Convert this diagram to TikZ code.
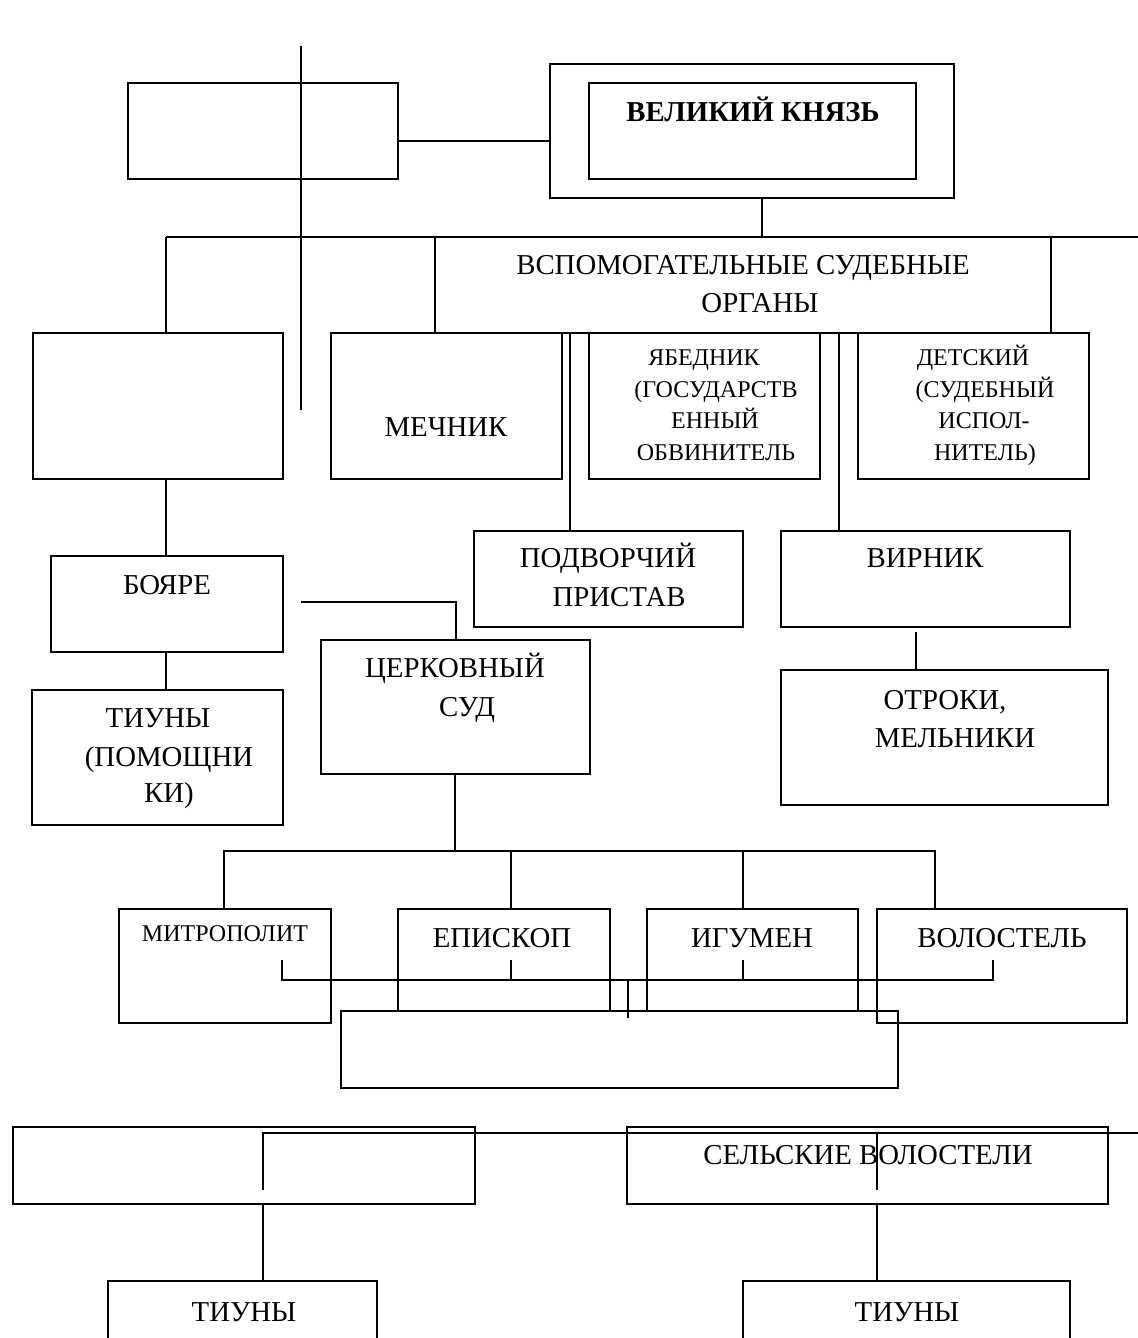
\documentclass[tikz,border=0pt]{standalone}
\usepackage{fontspec}
\setmainfont{Liberation Serif}
\tikzset{
  box/.style={draw, line width=0.8pt, inner sep=0pt, outer sep=0pt},
  conn/.style={line width=0.8pt},
  lbl/.style={inner sep=0pt, font=\fontsize{14.4}{17}\selectfont, text height=9.5pt, text depth=0pt},
  slbl/.style={inner sep=0pt, font=\fontsize{12}{14}\selectfont, text height=7.9pt, text depth=0pt},
}
\newcommand{\mkbox}[5]{\node[box, minimum width={(#4-#2)*0.5pt}, minimum height={(#5-#3)*0.5pt}] (#1) at ({(#2+#4)/2},{(#3+#5)/2}) {};}
\begin{document}
\begin{tikzpicture}[x=0.5pt, y=-0.5pt]
\useasboundingbox (0,0) rectangle (1138,1338);
% boxes
\mkbox{A}{128}{83}{398}{179}
\mkbox{prO}{550}{64}{954}{198}
\mkbox{prI}{589}{83}{916}{179}
\mkbox{B}{33}{333}{283}{479}
\mkbox{mech}{331}{333}{562}{479}
\mkbox{yab}{589}{333}{820}{479}
\mkbox{det}{858}{333}{1089}{479}
\mkbox{pod}{474}{531}{743}{627}
\mkbox{vir}{781}{531}{1070}{627}
\mkbox{otr}{781}{670}{1108}{805}
\mkbox{boy}{51}{556}{283}{652}
\mkbox{tiu1}{32}{690}{283}{825}
\mkbox{cerk}{321}{640}{590}{774}
\mkbox{mit}{119}{909}{331}{1023}
\mkbox{epi}{398}{909}{610}{1011}
\mkbox{igu}{647}{909}{858}{1011}
\mkbox{vol}{877}{909}{1127}{1023}
\mkbox{low}{341}{1011}{898}{1088}
\mkbox{C}{13}{1127}{475}{1204}
\mkbox{sel}{627}{1127}{1108}{1204}
\mkbox{tiu2}{108}{1281}{377}{1350}
\mkbox{tiu3}{743}{1281}{1070}{1350}
% texts
\node[lbl, font=\fontsize{14.4}{17}\selectfont\bfseries] (tpr) at (753,112) {ВЕЛИКИЙ КНЯЗЬ};
\node[lbl] (tv1) at (743,265) {ВСПОМОГАТЕЛЬНЫЕ СУДЕБНЫЕ};
\node[lbl] (tv2) at (760,303) {ОРГАНЫ};
\node[lbl] (tme) at (446,427) {МЕЧНИК};
\node[slbl] (ty1) at (704,358) {ЯБЕДНИК};
\node[slbl] (ty2) at (716,390) {(ГОСУДАРСТВ};
\node[slbl] (ty3) at (715,421) {ЕННЫЙ};
\node[slbl] (ty4) at (716,453) {ОБВИНИТЕЛЬ};
\node[slbl] (td1) at (973,358) {ДЕТСКИЙ};
\node[slbl] (td2) at (985,390) {(СУДЕБНЫЙ};
\node[slbl] (td3) at (984,421) {ИСПОЛ-};
\node[slbl] (td4) at (985,453) {НИТЕЛЬ)};
\node[lbl] (tp1) at (608,558) {ПОДВОРЧИЙ};
\node[lbl] (tp2) at (619,597) {ПРИСТАВ};
\node[lbl] (tvi) at (925,558) {ВИРНИК};
\node[lbl] (to1) at (945,700) {ОТРОКИ,};
\node[lbl] (to2) at (955,738) {МЕЛЬНИКИ};
\node[lbl] (tbo) at (167,585) {БОЯРЕ};
\node[lbl] (tt1) at (158,718) {ТИУНЫ};
\node[lbl] (tt2) at (169,757) {(ПОМОЩНИ};
\node[lbl] (tt3) at (169,793) {КИ)};
\node[lbl] (tc1) at (455,668) {ЦЕРКОВНЫЙ};
\node[lbl] (tc2) at (467,707) {СУД};
\node[slbl] (tmi) at (225,934) {МИТРОПОЛИТ};
\node[lbl] (tep) at (502,938) {ЕПИСКОП};
\node[lbl] (tig) at (752,938) {ИГУМЕН};
\node[lbl] (tvo) at (1002,938) {ВОЛОСТЕЛЬ};
\node[lbl] (tse) at (868,1155) {СЕЛЬСКИЕ ВОЛОСТЕЛИ};
\node[lbl] (tb1) at (244,1312) {ТИУНЫ};
\node[lbl] (tb2) at (907,1312) {ТИУНЫ};
% connectors
\coordinate (v1a) at (301,46);
\coordinate (v1b) at (301,410);
\draw[conn] (v1a) -- (v1b);
\draw[conn] (A.east |- 0,141) -- (prO.west |- 0,141);
\coordinate (hL) at (166,237);
\coordinate (hR) at (1138,237);
\draw[conn] (prO.south -| 762,0) -- (hL -| 762,0);
\draw[conn] (hL) -- (hR);
\draw[conn] (hL) -- (B.north -| hL);
\draw[conn] (hL -| 435,0) -- (mech.north -| 435,0);
\draw[conn] (hL -| 1051,0) -- (det.north -| 1051,0);
\draw[conn] (mech.north west) -- (det.north east);
\draw[conn] (mech.north -| 570,0) -- (pod.north -| 570,0);
\draw[conn] (det.north -| 839,0) -- (vir.north -| 839,0);
\coordinate (vdn) at (916,632);
\draw[conn] (vdn) -- (otr.north -| vdn);
\draw[conn] (B.south -| 166,0) -- (boy.north -| 166,0);
\draw[conn] (boy.south -| 166,0) -- (tiu1.north -| 166,0);
\coordinate (bc) at (301,602);
\draw[conn] (bc) -- (bc -| 456,0) -- (cerk.north -| 456,0);
\coordinate (chL) at (224,851);
\coordinate (chR) at (935,851);
\draw[conn] (cerk.south -| 455,0) -- (chL -| 455,0);
\draw[conn] (mit.north -| chL) -- (chL) -- (chR) -- (vol.north -| chR);
\draw[conn] (chL -| 511,0) -- (epi.north -| 511,0);
\draw[conn] (chL -| 743,0) -- (igu.north -| 743,0);
\coordinate (xa) at (282,960);
\coordinate (xb) at (282,980);
\coordinate (xc) at (993,980);
\coordinate (xd) at (993,960);
\draw[conn] (xa) -- (xb) -- (xc) -- (xd);
\draw[conn] (xa -| 511,0) -- (xb -| 511,0);
\draw[conn] (xa -| 743,0) -- (xb -| 743,0);
\coordinate (xt) at (628,1018);
\draw[conn] (xb -| xt) -- (xt);
\coordinate (bl) at (263,1190);
\coordinate (bt) at (263,1133);
\coordinate (br) at (1138,1133);
\draw[conn] (bl) -- (bt) -- (br);
\coordinate (sv) at (877,1190);
\draw[conn] (br -| sv) -- (sv);
\draw[conn] (C.south -| 263,0) -- (tiu2.north -| 263,0);
\draw[conn] (sel.south -| sv) -- (tiu3.north -| sv);
\end{tikzpicture}
\end{document}
